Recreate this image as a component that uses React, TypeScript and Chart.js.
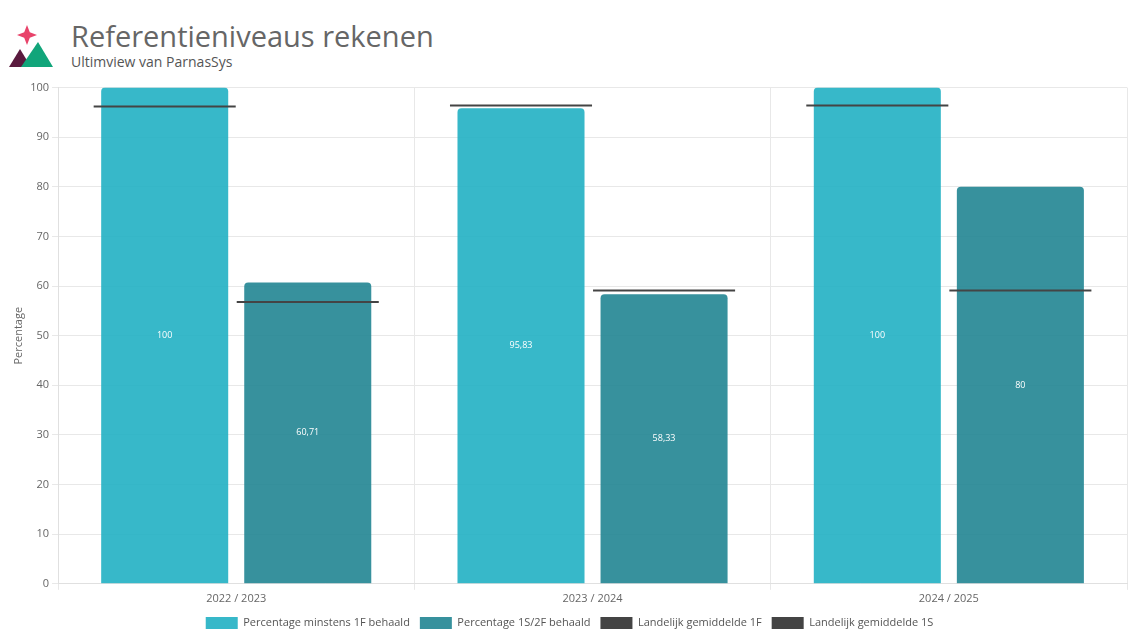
import React, { useEffect, useRef } from "react";
import { Chart, registerables } from "chart.js";

Chart.register(...registerables);

const categories = ["2022 / 2023", "2023 / 2024", "2024 / 2025"];
const pct1F = [100, 95.83, 100];
const pct1S = [60.71, 58.33, 80];
const avg1F = [96.2, 96.4, 96.4];
const avg1S = [56.8, 59.1, 59.1];
const yTicks = [0, 10, 20, 30, 40, 50, 60, 70, 80, 90, 100];

const FONT = "'Open Sans', 'Noto Sans', sans-serif";
const LINE_HALF = 0.2; // half thickness of average marker (value units)

const fmt = (v: number) => String(v).replace(".", ",");

const barLabels = {
  id: "barLabels",
  afterDatasetsDraw(chart: any) {
    const ctx = chart.ctx;
    ctx.save();
    ctx.font = `9px ${FONT}`;
    ctx.fillStyle = "#ffffff";
    ctx.textAlign = "center";
    ctx.textBaseline = "middle";
    [0, 1].forEach((di) => {
      const meta = chart.getDatasetMeta(di);
      const ds = chart.data.datasets[di];
      meta.data.forEach((el: any, i: number) => {
        const v = ds.data[i];
        ctx.fillText(fmt(v), el.x, (el.y + el.base) / 2);
      });
    });
    ctx.restore();
  },
};

export default function App() {
  const ref = useRef<HTMLCanvasElement>(null);
  useEffect(() => {
    document.body.style.margin = "0";
    const chart = new Chart(ref.current!, {
      type: "bar",
      data: {
        labels: categories,
        datasets: [
          {
            label: "Percentage minstens 1F behaald",
            data: pct1F,
            backgroundColor: "rgba(33,176,195,0.9)",
            borderColor: "rgba(33,176,195,0.9)",
            borderWidth: 0,
            borderRadius: 4,
            stack: "a",
            order: 1,
            categoryPercentage: 0.803,
            barPercentage: 0.888,
          },
          {
            label: "Percentage 1S/2F behaald",
            data: pct1S,
            backgroundColor: "rgba(33,133,146,0.9)",
            borderColor: "rgba(33,133,146,0.9)",
            borderWidth: 0,
            borderRadius: 4,
            stack: "b",
            order: 1,
            categoryPercentage: 0.803,
            barPercentage: 0.888,
          },
          {
            label: "Landelijk gemiddelde 1F",
            data: avg1F.map((v) => [v - LINE_HALF, v + LINE_HALF]) as any,
            backgroundColor: "#444444",
            borderWidth: 0,
            stack: "a",
            order: 0,
            categoryPercentage: 0.803,
            barPercentage: 0.993,
          },
          {
            label: "Landelijk gemiddelde 1S",
            data: avg1S.map((v) => [v - LINE_HALF, v + LINE_HALF]) as any,
            backgroundColor: "#444444",
            borderWidth: 0,
            stack: "b",
            order: 0,
            categoryPercentage: 0.803,
            barPercentage: 0.993,
          },
        ],
      },
      options: {
        animation: false,
        responsive: false,
        maintainAspectRatio: false,
        layout: { padding: { top: 4, right: 13, left: 12, bottom: -7 } },
        plugins: {
          tooltip: { enabled: false },
          legend: {
            position: "bottom",
            labels: {
              boxWidth: 32,
              boxHeight: 12,
              padding: 10,
              color: "#555",
              font: { family: FONT, size: 11 },
              sort: (a: any, b: any) => a.datasetIndex - b.datasetIndex,
            },
          },
        },
        scales: {
          x: {
            stacked: true,
            grid: { color: "#e8e8e8", tickLength: 6, offset: true },
            border: { color: "#e0e0e0" },
            ticks: { color: "#666", font: { family: FONT, size: 11 }, padding: 2 },
          },
          y: {
            stacked: false,
            min: 0,
            max: 100,
            afterBuildTicks: (axis: any) => {
              axis.ticks = yTicks.map((v) => ({ value: v }));
            },
            grid: { color: "#e8e8e8", tickLength: 6 },
            border: { color: "#e0e0e0" },
            ticks: { color: "#666", font: { family: FONT, size: 11 }, padding: 3 },
            title: {
              display: true,
              text: "Percentage",
              color: "#666",
              font: { family: FONT, size: 11 },
              padding: { top: 0, bottom: 2 },
            },
          },
        },
      },
      plugins: [barLabels],
    });
    return () => chart.destroy();
  }, []);

  return (
    <div style={{ position: "relative", width: 1140, height: 632, background: "#fff", overflow: "hidden" }}>
      <svg width="50" height="50" viewBox="0 0 50 50" style={{ position: "absolute", left: 7, top: 22 }}>
        <path d="M20 3 L22.8 10.2 L30 13 L22.8 15.8 L20 23 L17.2 15.8 L10 13 L17.2 10.2 Z" fill="#e8436a" />
        <path d="M2 45 L13 27 L24 45 Z" fill="#5a1a3e" />
        <path d="M14 45 L31 20 L46 45 Z" fill="#11a57a" />
      </svg>
      <div style={{ position: "absolute", left: 71, top: 16, fontFamily: FONT, fontSize: 29, color: "#666", whiteSpace: "nowrap" }}>
        Referentieniveaus rekenen
      </div>
      <div style={{ position: "absolute", left: 71, top: 52, fontFamily: FONT, fontSize: 14, color: "#555", whiteSpace: "nowrap" }}>
        Ultimview van ParnasSys
      </div>
      <canvas ref={ref} width={1140} height={554} style={{ position: "absolute", left: 0, top: 78, width: 1140, height: 554 }} />
    </div>
  );
}
